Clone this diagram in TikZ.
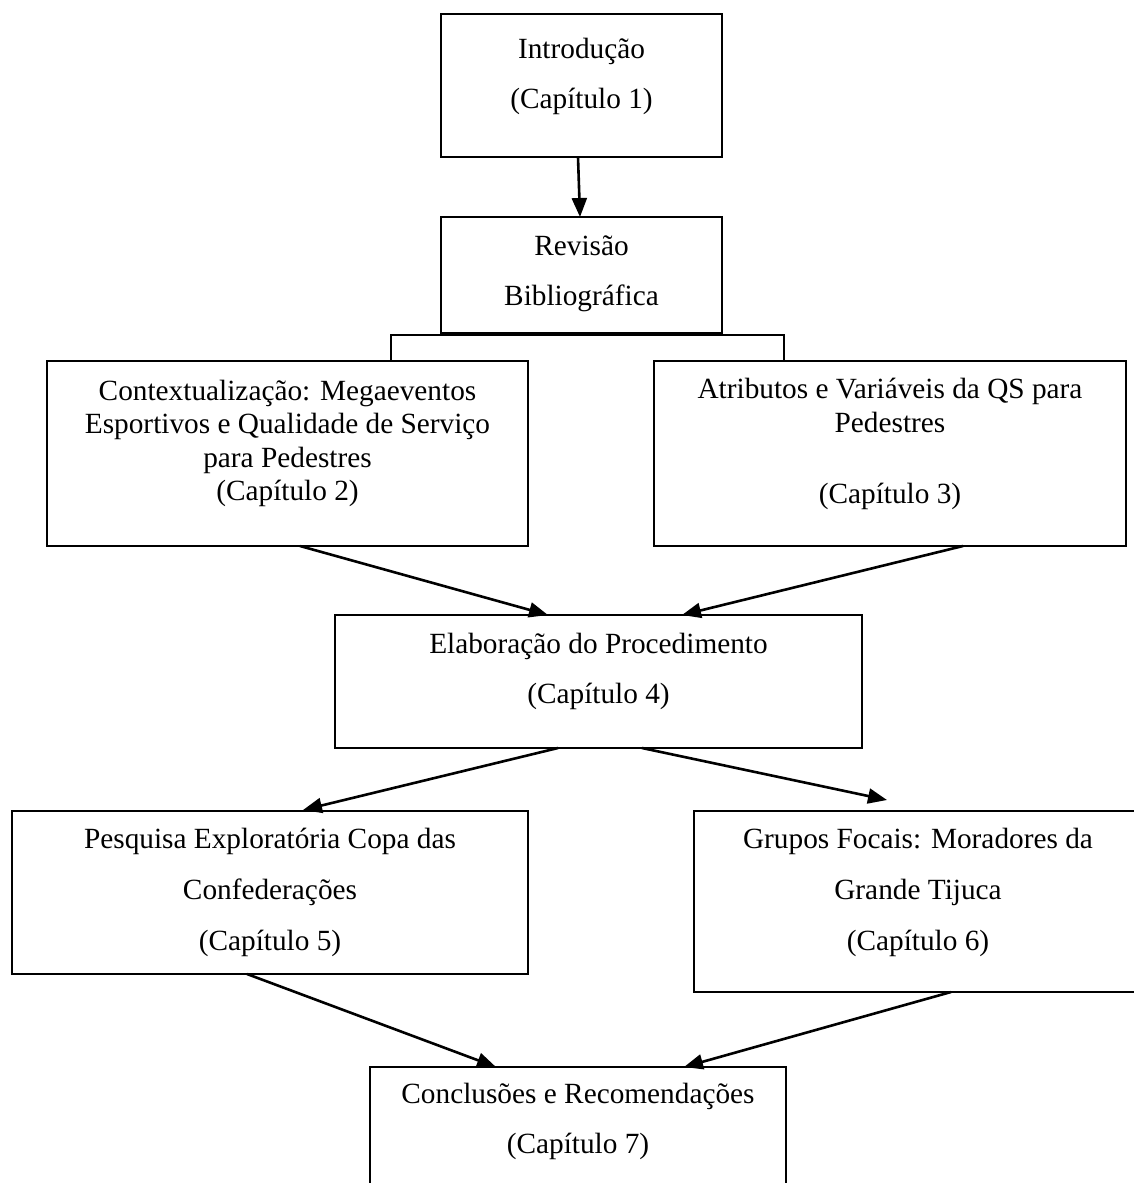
\documentclass[tikz,border=0pt]{standalone}
\usepackage{fontspec}
\setmainfont{Liberation Serif}
\usetikzlibrary{arrows.meta}
\newcommand{\fsz}{\fontsize{29.3}{33.7}\selectfont}
\begin{document}
\begin{tikzpicture}[x=1pt,y=-1pt,
  box/.style={draw, line width=2.2pt, rectangle, inner sep=0pt, outer sep=0pt, anchor=north west},
  txt/.style={anchor=base, inner sep=0pt, font=\fsz},
  conn/.style={line width=2.6pt, -{Triangle[length=19pt,width=15pt]}},
  brk/.style={line width=2.2pt}]
\useasboundingbox (0,0) rectangle (1134,1183);
\clip (0,0) rectangle (1134,1183);
% boxes
\node[box, minimum width=281pt, minimum height=143pt] (intro) at (441,14) {};
\node[box, minimum width=281pt, minimum height=116pt] (rev) at (441,217) {};
\node[box, minimum width=481pt, minimum height=185pt] (ctx) at (47,361) {};
\node[box, minimum width=472pt, minimum height=185pt] (atr) at (654,361) {};
\node[box, minimum width=527pt, minimum height=133pt] (elab) at (335,615) {};
\node[box, minimum width=516pt, minimum height=163pt] (pes) at (12,811) {};
\node[box, minimum width=448pt, minimum height=181pt] (gru) at (694,811) {};
\node[box, minimum width=416pt, minimum height=125pt] (con) at (370,1067) {};
% texts
\node[txt] (introa) at (581.5,58) {Introdução};
\node[txt] (introb) at (581.5,108.5) {(Capítulo 1)};
\node[txt] (reva) at (581.5,255) {Revisão};
\node[txt] (revb) at (581.5,305) {Bibliográfica};
\node[txt] (ctxa) at (287.5,400) {Contextualização: Megaeventos};
\node[txt] (ctxb) at (287.5,433.5) {Esportivos e Qualidade de Serviço};
\node[txt] (ctxc) at (287.5,467) {para Pedestres};
\node[txt] (ctxd) at (287.5,500) {(Capítulo 2)};
\node[txt] (atra) at (890,398) {Atributos e Variáveis da QS para};
\node[txt] (atrb) at (890,432) {Pedestres};
\node[txt] (atrc) at (890,503) {(Capítulo 3)};
\node[txt] (elaba) at (598.5,653) {Elaboração do Procedimento};
\node[txt] (elabb) at (598.5,703) {(Capítulo 4)};
\node[txt] (pesa) at (270,848) {Pesquisa Exploratória Copa das};
\node[txt] (pesb) at (270,899) {Confederações};
\node[txt] (pesc) at (270,950) {(Capítulo 5)};
\node[txt] (grua) at (918,848) {Grupos Focais: Moradores da};
\node[txt] (grub) at (918,899) {Grande Tijuca};
\node[txt] (gruc) at (918,950) {(Capítulo 6)};
\node[txt] (cona) at (578,1103) {Conclusões e Recomendações};
\node[txt] (conb) at (578,1153) {(Capítulo 7)};
% connectors
\draw[conn] ([xshift=-3.5pt]intro.south) -- ([xshift=-1.5pt]rev.north);
\draw[brk] ([xshift=344pt]ctx.north west) -- ++(0,-26) -| ([xshift=130pt]atr.north west);
\draw[conn] ([xshift=253pt]ctx.south west) -- ([xshift=213pt]elab.north west);
\draw[conn] ([xshift=309pt]atr.south west) -- ([xshift=347pt]elab.north west);
\draw[conn] ([xshift=223pt]elab.south west) -- ([xshift=291pt,yshift=1pt]pes.north west);
\draw[conn] ([xshift=307pt]elab.south west) -- ([xshift=193pt,yshift=11pt]gru.north west);
\draw[conn] ([xshift=235pt]pes.south west) -- ([xshift=126pt]con.north west);
\draw[conn] ([xshift=257pt]gru.south west) -- ([xshift=314pt]con.north west);
\end{tikzpicture}
\end{document}
